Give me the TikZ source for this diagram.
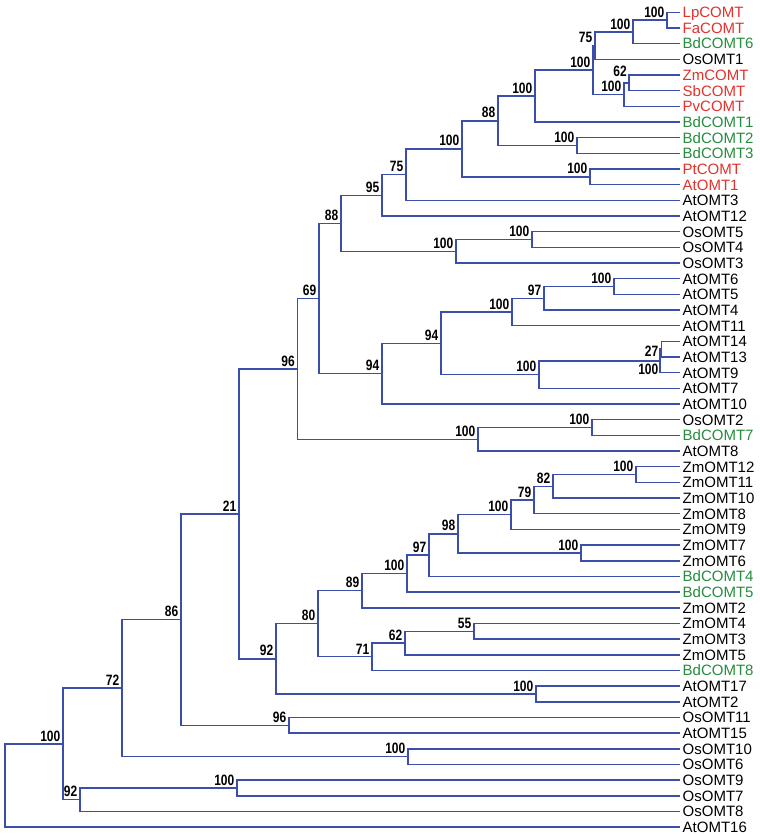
\documentclass[tikz,border=0pt]{standalone}
\usepackage{fontspec}
\setmainfont{Liberation Sans}
\newfontfamily\bsfont{Liberation Sans}[FakeStretch=0.8]
\usetikzlibrary{calc}
\definecolor{treeblue}{RGB}{58,78,170}
\definecolor{lred}{RGB}{228,50,45}
\definecolor{lgreen}{RGB}{38,140,62}
\tikzset{
  branch/.style={draw=treeblue, line width=1.5pt},
  leaf/.style={anchor=west, inner xsep=2.5pt, inner ysep=0pt, text height=10.7pt, text depth=0pt,
    font=\fontsize{15}{15}\selectfont, text=black},
  redleaf/.style={leaf, text=lred},
  greenleaf/.style={leaf, text=lgreen},
  bs/.style={anchor=south east, inner sep=0pt, font=\bsfont\bfseries\fontsize{15}{15}\selectfont},
}
\newcommand\leaf[3]{\node[#3] (L#1) at (680,{12.3+15.67*(#1-1)}) {#2};}
\newcommand\mkclade[4]{%
  \path let \p1=(#3), \p2=(#4) in coordinate (#1) at (#2pt,{0.5*\y1+0.5*\y2});
  \draw[branch] (#3) -| (#1) |- (#4);}
\newcommand\clade[5]{\mkclade{#1}{#2}{#3}{#4}%
  \node[bs] (#1lab) at ($(#1)+(-2.5,-2.5)$) {#5};}
\begin{document}
\begin{tikzpicture}[x=1pt,y=-1pt]
\useasboundingbox[fill=white] (0,0) rectangle (760,836);
\leaf{1}{LpCOMT}{redleaf}
\leaf{2}{FaCOMT}{redleaf}
\leaf{3}{BdCOMT6}{greenleaf}
\leaf{4}{OsOMT1}{leaf}
\leaf{5}{ZmCOMT}{redleaf}
\leaf{6}{SbCOMT}{redleaf}
\leaf{7}{PvCOMT}{redleaf}
\leaf{8}{BdCOMT1}{greenleaf}
\leaf{9}{BdCOMT2}{greenleaf}
\leaf{10}{BdCOMT3}{greenleaf}
\leaf{11}{PtCOMT}{redleaf}
\leaf{12}{AtOMT1}{redleaf}
\leaf{13}{AtOMT3}{leaf}
\leaf{14}{AtOMT12}{leaf}
\leaf{15}{OsOMT5}{leaf}
\leaf{16}{OsOMT4}{leaf}
\leaf{17}{OsOMT3}{leaf}
\leaf{18}{AtOMT6}{leaf}
\leaf{19}{AtOMT5}{leaf}
\leaf{20}{AtOMT4}{leaf}
\leaf{21}{AtOMT11}{leaf}
\leaf{22}{AtOMT14}{leaf}
\leaf{23}{AtOMT13}{leaf}
\leaf{24}{AtOMT9}{leaf}
\leaf{25}{AtOMT7}{leaf}
\leaf{26}{AtOMT10}{leaf}
\leaf{27}{OsOMT2}{leaf}
\leaf{28}{BdCOMT7}{greenleaf}
\leaf{29}{AtOMT8}{leaf}
\leaf{30}{ZmOMT12}{leaf}
\leaf{31}{ZmOMT11}{leaf}
\leaf{32}{ZmOMT10}{leaf}
\leaf{33}{ZmOMT8}{leaf}
\leaf{34}{ZmOMT9}{leaf}
\leaf{35}{ZmOMT7}{leaf}
\leaf{36}{ZmOMT6}{leaf}
\leaf{37}{BdCOMT4}{greenleaf}
\leaf{38}{BdCOMT5}{greenleaf}
\leaf{39}{ZmOMT2}{leaf}
\leaf{40}{ZmOMT4}{leaf}
\leaf{41}{ZmOMT3}{leaf}
\leaf{42}{ZmOMT5}{leaf}
\leaf{43}{BdCOMT8}{greenleaf}
\leaf{44}{AtOMT17}{leaf}
\leaf{45}{AtOMT2}{leaf}
\leaf{46}{OsOMT11}{leaf}
\leaf{47}{AtOMT15}{leaf}
\leaf{48}{OsOMT10}{leaf}
\leaf{49}{OsOMT6}{leaf}
\leaf{50}{OsOMT9}{leaf}
\leaf{51}{OsOMT7}{leaf}
\leaf{52}{OsOMT8}{leaf}
\leaf{53}{AtOMT16}{leaf}
% upper clade
\clade{a1}{667}{L1.west}{L2.west}{100}
\clade{a2}{633}{a1}{L3.west}{100}
\clade{a3}{595}{a2}{L4.west}{75}
\mkclade{a4}{629}{L5.west}{L6.west}
\node[bs] (a4lab) at (627,77) {62};
\clade{a5}{624}{a4}{L7.west}{100}
\clade{a6}{593}{a3}{a5}{100}
\clade{a7}{535}{a6}{L8.west}{100}
\clade{a8}{577}{L9.west}{L10.west}{100}
\clade{a9}{498}{a7}{a8}{88}
\clade{a10}{590}{L11.west}{L12.west}{100}
\clade{a11}{462}{a9}{a10}{100}
\clade{a12}{406}{a11}{L13.west}{75}
\clade{a13}{382}{a12}{L14.west}{95}
\clade{b1}{532}{L15.west}{L16.west}{100}
\clade{b2}{456}{b1}{L17.west}{100}
\clade{a14}{341}{a13}{b2}{88}
\clade{c1}{614}{L18.west}{L19.west}{100}
\clade{c2}{544}{c1}{L20.west}{97}
\clade{c3}{512}{c2}{L21.west}{100}
\mkclade{c4}{661.5}{L22.west}{L23.west}
\mkclade{c5}{660}{c4}{L24.west}
\node[bs] (c4lab) at (658.5,357) {27};
\node[bs, anchor=north east] (c5lab) at (658.5,363.5) {100};
\clade{c6}{539}{c5}{L25.west}{100}
\clade{c7}{441}{c3}{c6}{94}
\clade{c8}{382}{c7}{L26.west}{94}
\clade{a15}{319}{a14}{c8}{69}
\clade{d1}{592}{L27.west}{L28.west}{100}
\clade{d2}{478}{d1}{L29.west}{100}
\clade{a16}{297.5}{a15}{d2}{96}
% lower clade
\clade{e1}{636}{L30.west}{L31.west}{100}
\clade{e2}{553}{e1}{L32.west}{82}
\clade{e3}{534}{e2}{L33.west}{79}
\clade{e4}{511}{e3}{L34.west}{100}
\clade{e5}{581}{L35.west}{L36.west}{100}
\clade{e6}{458}{e4}{e5}{98}
\clade{e7}{429}{e6}{L37.west}{97}
\clade{e8}{407}{e7}{L38.west}{100}
\clade{e9}{362}{e8}{L39.west}{89}
\clade{f1}{474}{L40.west}{L41.west}{55}
\clade{f2}{405}{f1}{L42.west}{62}
\clade{f3}{372}{f2}{L43.west}{71}
\clade{e10}{318}{e9}{f3}{80}
\clade{g1}{536}{L44.west}{L45.west}{100}
\clade{e11}{276}{e10}{g1}{92}
\clade{a17}{239}{a16}{e11}{21}
\clade{h1}{289}{L46.west}{L47.west}{96}
\clade{a18}{181}{a17}{h1}{86}
\clade{i1}{408}{L48.west}{L49.west}{100}
\clade{a19}{122}{a18}{i1}{72}
\clade{j1}{237}{L50.west}{L51.west}{100}
\clade{j2}{80}{j1}{L52.west}{92}
\clade{a20}{63}{a19}{j2}{100}
\mkclade{root}{5}{a20}{L53.west}
\end{tikzpicture}
\end{document}
